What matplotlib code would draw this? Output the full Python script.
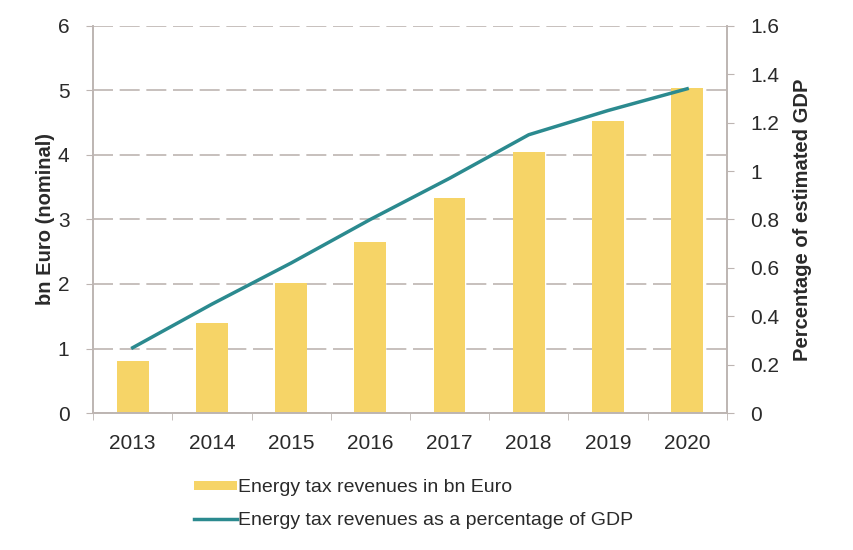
import matplotlib.pyplot as plt
import numpy as np

plt.rcParams['font.family'] = ['Liberation Sans', 'DejaVu Sans']

years = ['2013', '2014', '2015', '2016', '2017', '2018', '2019', '2020']
revenue_bn = [0.81, 1.40, 2.02, 2.65, 3.33, 4.05, 4.53, 5.04]
share_gdp = [0.27, 0.45, 0.62, 0.80, 0.97, 1.15, 1.25, 1.34]

bar_col = '#F6D467'
line_col = '#2B8A8F'
grid_col = '#BDB5B2'
text_col = '#2a2a2a'

fig = plt.figure(figsize=(8.54, 5.5), dpi=100)
ax = fig.add_axes([0.109, 0.249, 0.742, 0.704])
ax2 = ax.twinx()

x = np.arange(len(years))
bars = ax.bar(x, revenue_bn, width=0.4, color=bar_col, zorder=2,
              label='Energy tax revenues in bn Euro')
line, = ax2.plot(x, share_gdp, color=line_col, lw=2.5,
                 label='Energy tax revenues as a percentage of GDP')

ax.set_xlim(-0.5, len(years) - 0.5)
ax.set_ylim(0, 6)
ax2.set_ylim(0, 1.6)
ax.set_yticks(range(0, 7))
ax2.set_yticks(np.arange(0, 1.61, 0.2))
ax2.set_yticklabels(['0', '0.2', '0.4', '0.6', '0.8', '1', '1.2', '1.4', '1.6'])
ax.set_xticks(x)
ax.set_xticklabels(years)

# tick marks sit between the categories on the x axis
ax.set_xticks(np.arange(-0.5, len(years), 1), minor=True)
ax.tick_params(axis='x', which='major', length=0, pad=15)
ax.tick_params(axis='x', which='minor', length=5, color=grid_col)

ax.yaxis.grid(True, color=grid_col, lw=1.2, ls=(0, (12, 4)), zorder=0)
ax.set_axisbelow(True)

for a in (ax, ax2):
    a.spines['top'].set_visible(False)
    for s in ('left', 'right', 'bottom'):
        a.spines[s].set_color(grid_col)
        a.spines[s].set_linewidth(1.2)
    a.tick_params(axis='y', length=5, color=grid_col, labelsize=15,
                  labelcolor=text_col, pad=12)
ax.tick_params(axis='x', labelsize=15, labelcolor=text_col)

ax.set_ylabel('bn Euro (nominal)', fontsize=14.5, fontweight='bold',
              color=text_col, labelpad=2)
ax2.set_ylabel('Percentage of estimated GDP', fontsize=14.5, fontweight='bold',
               color=text_col, labelpad=10)

fig.legend([bars, line], [bars.get_label(), line.get_label()],
           loc='upper left', bbox_to_anchor=(0.207, 0.16), frameon=False,
           fontsize=14, handlelength=2.2, handleheight=0.4, handletextpad=0.05,
           labelspacing=0.8, labelcolor=text_col)

fig.savefig('out.png', dpi=100)
